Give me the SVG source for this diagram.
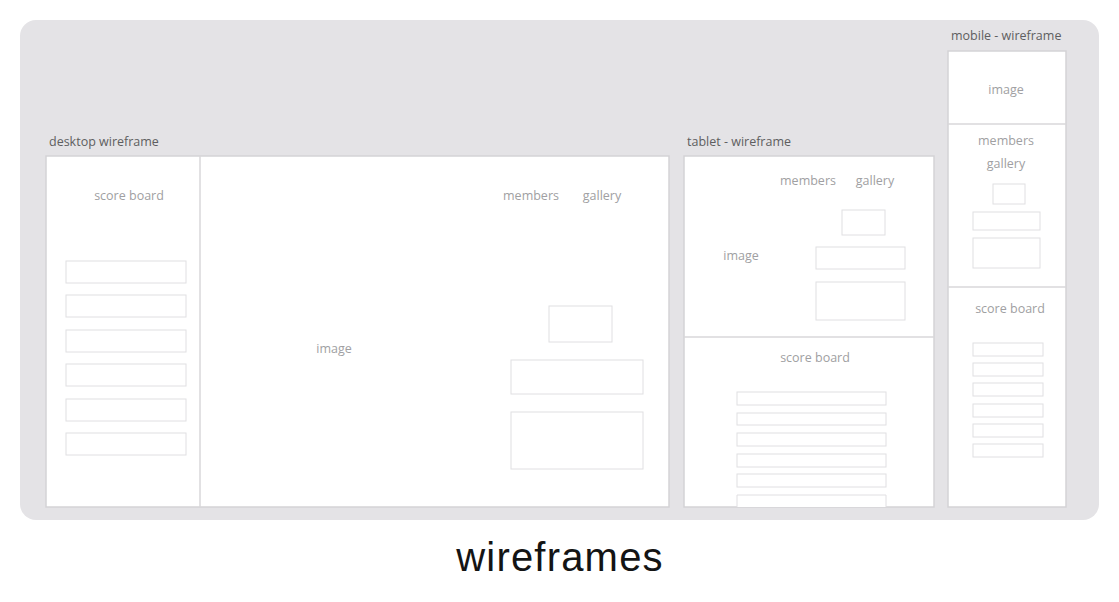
<svg xmlns="http://www.w3.org/2000/svg" width="1119" height="602" viewBox="0 0 1119 602">
  <style>
    .bg { fill: #e4e3e6; }
    .frame { fill: #ffffff; stroke: #d4d3d6; stroke-width: 1.5; }
    .div { stroke: #d8d7da; stroke-width: 1.5; fill: none; }
    .box { fill: #ffffff; stroke: #e0dfe2; stroke-width: 1; }
    .title { font-family: "Open Sans", "Liberation Sans", sans-serif; font-size: 12.5px; fill: #5e5e60; }
    .lbl { font-family: "Open Sans", "Liberation Sans", sans-serif; font-size: 12.5px; fill: #a0a0a2; text-anchor: middle; }
    .caption { font-family: "Liberation Sans", Arial, sans-serif; font-size: 40px; letter-spacing: 1.2px; fill: #141414; text-anchor: middle; }
  </style>

  <rect class="bg" x="20" y="20" width="1079" height="500" rx="16" ry="16"/>

  <!-- desktop -->
  <g id="desktop">
    <text class="title" x="49" y="146">desktop wireframe</text>
    <rect class="frame" x="46" y="156" width="623" height="351"/>
    <line class="div" x1="200" y1="156" x2="200" y2="507"/>
    <text class="lbl" x="129" y="200">score board</text>
    <rect class="box" x="66" y="261" width="120" height="22"/>
    <rect class="box" x="66" y="295" width="120" height="22"/>
    <rect class="box" x="66" y="330" width="120" height="22"/>
    <rect class="box" x="66" y="364" width="120" height="22"/>
    <rect class="box" x="66" y="399" width="120" height="22"/>
    <rect class="box" x="66" y="433" width="120" height="22"/>
    <text class="lbl" x="334" y="353">image</text>
    <text class="lbl" x="531" y="200">members</text>
    <text class="lbl" x="602" y="200">gallery</text>
    <rect class="box" x="549" y="306" width="63" height="36"/>
    <rect class="box" x="511" y="360" width="132" height="34"/>
    <rect class="box" x="511" y="412" width="132" height="57"/>
  </g>

  <!-- tablet -->
  <g id="tablet">
    <text class="title" x="687" y="146">tablet - wireframe</text>
    <rect class="frame" x="684" y="156" width="250" height="351"/>
    <line class="div" x1="684" y1="337" x2="934" y2="337"/>
    <text class="lbl" x="808" y="185">members</text>
    <text class="lbl" x="875" y="185">gallery</text>
    <rect class="box" x="842" y="210" width="43" height="25"/>
    <text class="lbl" x="741" y="260">image</text>
    <rect class="box" x="816" y="247" width="89" height="22"/>
    <rect class="box" x="816" y="282" width="89" height="38"/>
    <text class="lbl" x="815" y="362">score board</text>
    <rect class="box" x="737" y="392" width="149" height="13"/>
    <rect class="box" x="737" y="413" width="149" height="12"/>
    <rect class="box" x="737" y="433" width="149" height="13"/>
    <rect class="box" x="737" y="454" width="149" height="13"/>
    <rect class="box" x="737" y="474" width="149" height="13"/>
    <path class="box" d="M737,507 V495 H886 V507"/>
  </g>

  <!-- mobile -->
  <g id="mobile">
    <text class="title" x="951" y="40">mobile - wireframe</text>
    <rect class="frame" x="948" y="51" width="118" height="456"/>
    <line class="div" x1="948" y1="124" x2="1066" y2="124"/>
    <line class="div" x1="948" y1="287" x2="1066" y2="287"/>
    <text class="lbl" x="1006" y="94">image</text>
    <text class="lbl" x="1006" y="145">members</text>
    <text class="lbl" x="1006" y="168">gallery</text>
    <rect class="box" x="993" y="184" width="32" height="20"/>
    <rect class="box" x="973" y="212" width="67" height="18"/>
    <rect class="box" x="973" y="238" width="67" height="30"/>
    <text class="lbl" x="1010" y="313">score board</text>
    <rect class="box" x="973" y="343" width="70" height="13"/>
    <rect class="box" x="973" y="363" width="70" height="13"/>
    <rect class="box" x="973" y="383" width="70" height="13"/>
    <rect class="box" x="973" y="404" width="70" height="13"/>
    <rect class="box" x="973" y="424" width="70" height="13"/>
    <rect class="box" x="973" y="444" width="70" height="13"/>
  </g>

  <text class="caption" x="560" y="571">wireframes</text>
</svg>
